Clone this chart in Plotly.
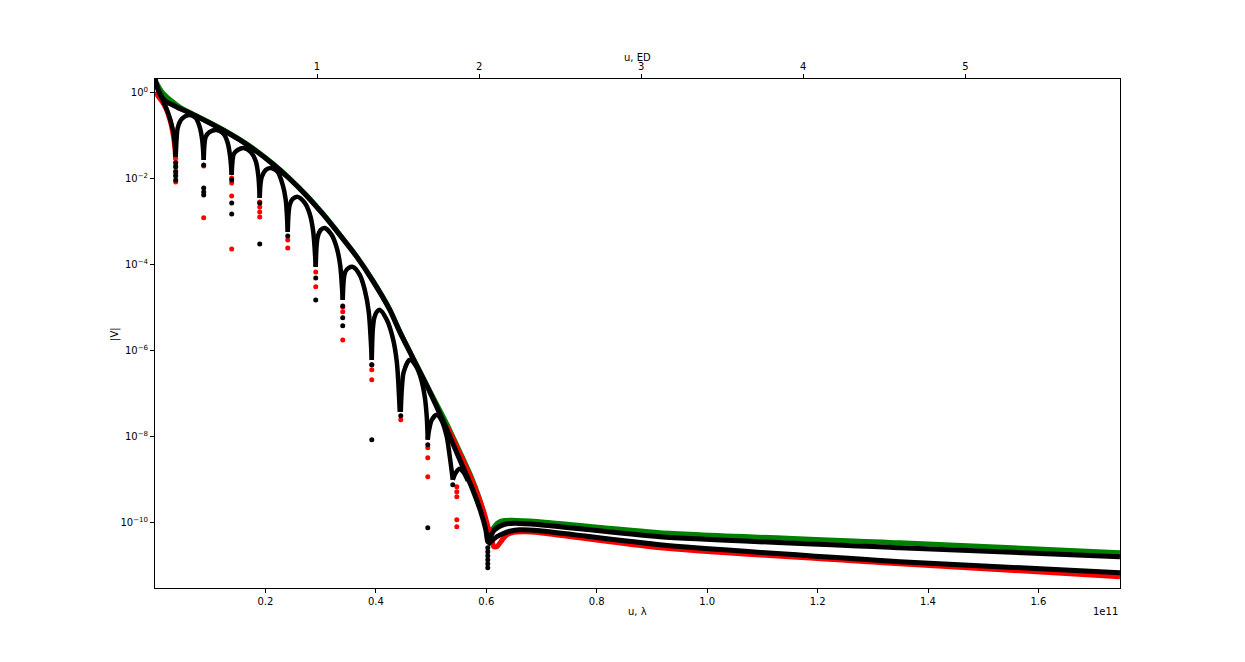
"""|V| against baseline length: model lobes, envelopes and the high-u floor."""

import plotly.graph_objects as go

# u in units of 1e11 lambda (the axis shows the "1e11" offset), |V| unitless

# black envelope, from u = 0 through the dip at 0.6 and along the upper floor
ENV_U = [0.0004, 0.0031, 0.0067, 0.0121, 0.0194, 0.0303, 0.0447, 0.0629, 0.0937, 0.1227,
         0.1534, 0.1842, 0.2132, 0.2440, 0.2748, 0.3038, 0.3346, 0.3654, 0.3944, 0.4252,
         0.4433, 0.4668, 0.4976, 0.5248, 0.5520, 0.5755, 0.5900, 0.5991, 0.6027, 0.6063,
         0.6136, 0.6226, 0.6335, 0.6516, 0.6969, 0.9143, 1.3491, 1.7476]
ENV_V = [2.04, 1.48, 1.07, 0.778, 0.611, 0.521, 0.421, 0.331, 0.210, 0.133,
         0.0781, 0.0422, 0.0216, 0.00970, 0.00391, 0.00149, 4.86e-4, 1.50e-4, 4.16e-5, 8.82e-6,
         2.72e-6, 6.78e-7, 1.10e-7, 1.89e-8, 2.90e-9, 5.84e-10, 1.80e-10, 6.88e-11, 3.62e-11, 4.49e-11,
         6.52e-11, 8.07e-11, 9.23e-11, 9.74e-11, 8.99e-11, 4.73e-11, 2.63e-11, 1.62e-11]

# lower black floor after the dip
LOW_U = [0.6027, 0.6100, 0.6190, 0.6299, 0.6426, 0.6607, 0.6969, 0.9143, 1.3491, 1.7476]
LOW_V = [3.08e-11, 3.82e-11, 4.73e-11, 5.55e-11, 6.35e-11, 6.88e-11, 6.52e-11, 3.08e-11, 1.24e-11, 6.90e-12]

# green envelope (mostly hidden under the black one)
GRN_U = [0.0031, 0.0085, 0.0158, 0.0266, 0.0447, 0.0629, 0.0937, 0.1227, 0.1534, 0.1842,
         0.2132, 0.2440, 0.2748, 0.3038, 0.3346, 0.3654, 0.3944, 0.4252, 0.4433, 0.4668,
         0.4976, 0.5284, 0.5538, 0.5719, 0.5864, 0.5973, 0.6027, 0.6100, 0.6190, 0.6299,
         0.6462, 0.6969, 0.9143, 1.3491, 1.7476]
GRN_V = [1.64, 1.225, 0.913, 0.680, 0.456, 0.340, 0.216, 0.137, 0.0802, 0.0434,
         0.0222, 0.00997, 0.00402, 0.00153, 4.99e-4, 1.54e-4, 4.27e-5, 9.06e-6, 2.79e-6, 6.96e-7,
         1.16e-7, 1.99e-8, 4.00e-9, 1.23e-9, 4.02e-10, 1.38e-10, 6.88e-11, 6.88e-11, 9.48e-11, 1.11e-10,
         1.14e-10, 1.05e-10, 5.86e-11, 3.43e-11, 2.01e-11]

# black lobes, one list per lobe (minimum -> peak -> next minimum)
LOBE_U = [
    [0.0004, 0.0049, 0.0140, 0.0230, 0.0303, 0.0348, 0.0375],
    [0.0375, 0.0388, 0.0411, 0.0484, 0.0610, 0.0737, 0.0810, 0.0855, 0.0882],
    [0.0882, 0.0895, 0.0918, 0.0991, 0.1118, 0.1245, 0.1317, 0.1362, 0.1389],
    [0.1389, 0.1402, 0.1426, 0.1498, 0.1607, 0.1734, 0.1824, 0.1870, 0.1897],
    [0.1897, 0.1909, 0.1933, 0.2005, 0.2096, 0.2223, 0.2313, 0.2368, 0.2404],
    [0.2404, 0.2417, 0.2440, 0.2495, 0.2585, 0.2712, 0.2803, 0.2866, 0.2911],
    [0.2911, 0.2924, 0.2947, 0.3002, 0.3074, 0.3201, 0.3292, 0.3355, 0.3400],
    [0.3400, 0.3418, 0.3446, 0.3509, 0.3582, 0.3708, 0.3799, 0.3871, 0.3926],
    [0.3926, 0.3944, 0.3971, 0.4016, 0.4071, 0.4198, 0.4306, 0.4379, 0.4433],
    [0.4451, 0.4469, 0.4505, 0.4614, 0.4723, 0.4813, 0.4886, 0.4922, 0.4940],
    [0.4940, 0.4958, 0.5013, 0.5103, 0.5194, 0.5284, 0.5339, 0.5393],
    [0.5393, 0.5447, 0.5520, 0.5592, 0.5665],
]
LOBE_V = [
    [2.04, 1.19, 0.662, 0.349, 0.174, 0.0869, 0.0315],
    [0.0315, 0.0702, 0.148, 0.240, 0.297, 0.253, 0.156, 0.0781, 0.0268],
    [0.0268, 0.0597, 0.0917, 0.120, 0.133, 0.1076, 0.0665, 0.0315, 0.01202],
    [0.01202, 0.0241, 0.0369, 0.0457, 0.0509, 0.0411, 0.0254, 0.01202, 0.00351],
    [0.00351, 0.00704, 0.0108, 0.0157, 0.01748, 0.01411, 0.00704, 0.00316, 5.71e-4],
    [5.71e-4, 0.00142, 0.00242, 0.00333, 0.00372, 0.00269, 0.00149, 5.71e-4, 8.79e-5],
    [8.79e-5, 2.43e-4, 4.37e-4, 6.35e-4, 7.07e-4, 4.86e-4, 2.43e-4, 9.27e-5, 1.50e-5],
    [1.50e-5, 4.39e-5, 6.73e-5, 8.33e-5, 8.79e-5, 5.73e-5, 2.57e-5, 7.93e-6, 6.09e-7],
    [6.09e-7, 3.03e-6, 5.75e-6, 7.93e-6, 8.82e-6, 5.17e-6, 1.97e-6, 5.47e-7, 3.78e-8],
    [3.78e-8, 1.22e-7, 3.21e-7, 6.09e-7, 4.42e-7, 2.33e-7, 8.42e-8, 2.89e-8, 8.46e-9],
    [8.46e-9, 1.30e-8, 2.46e-8, 3.22e-8, 2.33e-8, 9.92e-9, 3.41e-9, 9.96e-10],
    [9.96e-10, 1.45e-9, 1.79e-9, 1.45e-9, 9.45e-10],
]

# red model: first lobe start and the part past the dip
RED0_U = [0.0004, 0.0049, 0.0121, 0.0194, 0.0266, 0.0321, 0.0357, 0.0375]
RED0_V = [1.02, 0.843, 0.628, 0.432, 0.240, 0.120, 0.0566, 0.0268]
RED_U = [0.5284, 0.5574, 0.5810, 0.5955, 0.6045, 0.6100, 0.6136, 0.6190, 0.6263, 0.6353,
         0.6462, 0.6697, 0.6969, 0.9143, 1.3491, 1.7476]
RED_V = [1.79e-8, 2.90e-9, 5.84e-10, 1.80e-10, 6.88e-11, 4.03e-11, 2.77e-11, 2.77e-11, 3.62e-11, 4.99e-11,
         5.86e-11, 6.18e-11, 5.86e-11, 2.63e-11, 1.12e-11, 5.57e-12]

# loose samples near the nulls
BDOT_U = [0.0375, 0.0375, 0.0375, 0.0375, 0.0375, 0.0882, 0.0882, 0.0882, 0.0882,
          0.1389, 0.1389, 0.1389, 0.1897, 0.1897, 0.2404, 0.2911, 0.2911,
          0.3400, 0.3400, 0.3400, 0.3926, 0.3926, 0.4451, 0.4940, 0.4940, 0.5393,
          0.6027, 0.6027, 0.6027, 0.6027, 0.6027, 0.6027]
BDOT_V = [0.0228, 0.01843, 0.01411, 0.01139, 0.00920, 0.0205, 0.00600, 0.00484, 0.00413,
          0.00920, 0.00269, 0.00149, 0.00269, 3.00e-4, 4.61e-4, 4.88e-5, 1.50e-5,
          1.09e-5, 5.75e-6, 3.75e-6, 4.66e-7, 8.46e-9, 3.05e-8, 6.47e-9, 7.65e-11, 7.62e-10,
          2.63e-11, 2.12e-11, 1.71e-11, 1.38e-11, 1.12e-11, 9.00e-12]
RDOT_U = [0.0375, 0.0375, 0.0375, 0.0375, 0.0375, 0.0882, 0.0882,
          0.1389, 0.1389, 0.1389, 0.1389, 0.1897, 0.1897, 0.1897, 0.1897,
          0.2404, 0.2404, 0.2911, 0.2911, 0.3400, 0.3400, 0.3400,
          0.3926, 0.3926, 0.3926, 0.4451, 0.4940, 0.4940, 0.4940,
          0.5466, 0.5466, 0.5466, 0.5466, 0.5466]
RDOT_V = [0.0241, 0.01945, 0.01488, 0.01202, 0.00827, 0.01945, 0.00121,
          0.01024, 0.00784, 0.00391, 2.30e-4, 0.00284, 0.00217, 0.00166, 0.00127,
          3.72e-4, 2.43e-4, 6.73e-5, 3.02e-5, 1.035e-5, 7.93e-6, 1.77e-6,
          4.66e-7, 3.57e-7, 2.09e-7, 2.46e-8, 5.51e-9, 3.23e-9, 1.17e-9,
          6.85e-10, 5.24e-10, 4.02e-10, 1.17e-10, 8.07e-11]

U_TICKS = [0.2, 0.4, 0.6, 0.8, 1.0, 1.2, 1.4, 1.6]
ED_TICKS = [1, 2, 3, 4, 5]
V_TICKS = [1, 1e-2, 1e-4, 1e-6, 1e-8, 1e-10]
V_LABELS = ["10<sup>0</sup>", "10<sup>−2</sup>", "10<sup>−4</sup>",
            "10<sup>−6</sup>", "10<sup>−8</sup>", "10<sup>−10</sup>"]

U_MAX = 1.7477
ED_PER_U = 3.407  # 1 ED ~ 0.2935e11 lambda

BLACK, RED, GREEN = "#000000", "#ff0000", "#008000"


def _joined(groups):
    out = []
    for g in groups:
        out.extend(g)
        out.append(None)
    return out


def _line(x, y, colour, width, smooth=0.6):
    return go.Scatter(x=x, y=y, mode="lines",
                      line=dict(color=colour, width=width, shape="spline", smoothing=smooth),
                      connectgaps=False, hoverinfo="skip")


fig = go.Figure()
fig.add_trace(_line(GRN_U, GRN_V, GREEN, 5))
fig.add_trace(_line(RED0_U, RED0_V, RED, 5))
fig.add_trace(_line(RED_U, RED_V, RED, 5))
fig.add_trace(go.Scatter(x=RDOT_U, y=RDOT_V, mode="markers",
                         marker=dict(color=RED, size=5, line=dict(width=0)), hoverinfo="skip"))
fig.add_trace(_line(_joined(LOBE_U), _joined(LOBE_V), BLACK, 4.5, smooth=0.8))
fig.add_trace(_line(ENV_U, ENV_V, BLACK, 5))
fig.add_trace(_line(LOW_U, LOW_V, BLACK, 5))
fig.add_trace(go.Scatter(x=BDOT_U, y=BDOT_V, mode="markers",
                         marker=dict(color=BLACK, size=5, line=dict(width=0)), hoverinfo="skip"))
# empty trace so the ED axis along the top gets drawn
fig.add_trace(go.Scatter(x=[], y=[], xaxis="x2", yaxis="y", hoverinfo="skip"))

axis_common = dict(showgrid=False, zeroline=False, showline=True, linecolor="black",
                   linewidth=1, ticks="outside", ticklen=4, tickwidth=1, tickcolor="black")


def _label(text, x, y, angle=0):
    return dict(text=text, x=x, y=y, xref="paper", yref="paper", xanchor="center",
                yanchor="middle", showarrow=False, textangle=angle, font=dict(size=10))


# the page body adds an 8 px offset, so the figure is 8 px smaller and margins shifted
fig.update_layout(
    width=1237,
    height=654,
    margin=dict(l=147, r=125, t=71, b=74),
    paper_bgcolor="white",
    plot_bgcolor="white",
    showlegend=False,
    font=dict(family="DejaVu Sans", size=10, color="black"),
    xaxis=dict(range=[0, U_MAX], tickvals=U_TICKS, ticktext=[f"{t:.1f}" for t in U_TICKS],
               **axis_common),
    xaxis2=dict(range=[0, U_MAX * ED_PER_U], overlaying="x", side="top", anchor="y",
                tickvals=ED_TICKS, ticktext=[str(t) for t in ED_TICKS], **axis_common),
    yaxis=dict(type="log", range=[-11.516, 0.309], tickvals=V_TICKS, ticktext=V_LABELS,
               mirror=True, **axis_common),
    annotations=[
        _label("u, λ", 0.5, -0.046),
        _label("u, ED", 0.5, 1.043),
        _label("|V|", -0.042, 0.5, angle=-90),
        dict(text="1e11", x=1, y=-0.0465, xref="paper", yref="paper",
             xanchor="right", yanchor="middle", showarrow=False, font=dict(size=10)),
    ],
)

fig.write_html("out.html")
